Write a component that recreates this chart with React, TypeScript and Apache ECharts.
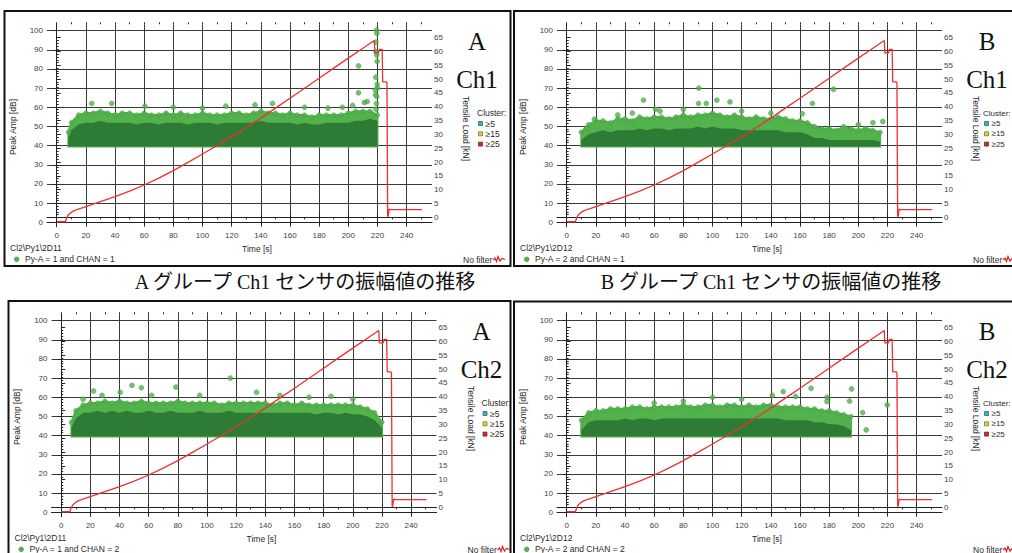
import React, { useEffect, useRef } from "react";
import * as echarts from "echarts";

// ---------------- tick values ----------------
const timeMajorTicks = [0, 20, 40, 60, 80, 100, 120, 140, 160, 180, 200, 220, 240];
const timeMinorTicks = [0, 10, 20, 30, 40, 50, 60, 70, 80, 90, 100, 110, 120, 130, 140, 150, 160, 170, 180, 190, 200, 210, 220, 230, 240, 250];
const ampTicks = [0, 10, 20, 30, 40, 50, 60, 70, 80, 90, 100];
const loadMajorTicks = [0, 5, 10, 15, 20, 25, 30, 35, 40, 45, 50, 55, 60, 65];
const loadMinorTicks = [0, 1, 2, 3, 4, 5, 6, 7, 8, 9, 10, 11, 12, 13, 14, 15, 16, 17, 18, 19, 20, 21, 22, 23, 24, 25, 26, 27, 28, 29, 30, 31, 32, 33, 34, 35, 36, 37, 38, 39, 40, 41, 42, 43, 44, 45, 46, 47, 48, 49, 50, 51, 52, 53, 54, 55, 56, 57, 58, 59, 60, 61, 62, 63, 64, 65];

// ---------------- tensile load curve (kN vs s) ----------------
const loadTime = [0, 6.0, 6.6, 7.2, 8, 9, 10, 12, 15, 20, 25, 30, 40, 50, 60, 70, 80, 90, 100, 110, 120, 130, 140, 150, 160, 170, 180, 190, 200, 210, 217.8, 218.2, 220.8, 221.3, 223.2, 223.6, 226.0, 226.5, 226.8, 227.0, 227.4, 228.0, 228.8, 250.5];
const loadKN = [-1.6, -1.6, -0.6, 0.2, 0.9, 1.4, 1.8, 2.4, 3.0, 3.9, 4.8, 5.7, 7.5, 9.5, 11.7, 14.2, 16.9, 19.9, 22.9, 26.0, 29.1, 32.4, 35.9, 39.5, 43.1, 46.7, 50.3, 54.0, 57.6, 61.2, 64.0, 59.5, 59.5, 60.8, 60.8, 49.0, 49.0, 48.7, 48.7, 0.3, 0.5, 3.0, 2.8, 2.8];

// ---------------- hit bands (dense cloud envelopes, dB) ----------------
const bandTimeA1 = [8, 10, 15, 20, 25, 30, 35, 40, 45, 50, 55, 60, 65, 70, 75, 80, 85, 90, 95, 100, 105, 110, 115, 120, 125, 130, 135, 140, 145, 150, 155, 160, 165, 170, 175, 180, 185, 190, 195, 200, 205, 210, 215, 220];
const coreA1 = [44, 48, 51, 52, 52, 53, 52, 52, 52, 52, 51, 52, 52, 51, 52, 52, 52, 51, 52, 52, 52, 51, 52, 52, 52, 52, 52, 53, 52, 52, 52, 52, 51, 52, 51, 51, 52, 52, 52, 52, 53, 53, 54, 53];
const fringeA1 = [47, 52, 56, 57, 57, 58, 57, 56, 57, 57, 56, 57, 56, 56, 57, 56, 57, 56, 56, 57, 56, 56, 56, 57, 57, 56, 57, 58, 57, 57, 56, 57, 56, 56, 55, 56, 56, 56, 56, 57, 58, 58, 58, 56];
const outliersA1 = [[24, 62], [37.7, 62], [60.5, 60.6], [80, 60], [100, 59.5], [116, 60.6], [136, 61.3], [148, 62], [170, 60], [186, 59.5], [196, 60], [203, 61], [207, 81.6], [207, 67.6], [211, 62.5], [213, 63], [219.4, 100.3], [219.6, 98.6], [219, 94], [219, 89], [219.5, 87.3], [219.8, 84], [218.8, 75.7], [219.8, 72], [220, 70], [218.5, 69], [218.6, 66.5], [219.6, 65.6], [219.3, 62], [219, 59]];

const bandTimeB1 = [10, 15, 20, 25, 30, 35, 40, 45, 50, 55, 60, 65, 70, 75, 80, 85, 90, 95, 100, 105, 110, 115, 120, 125, 130, 135, 140, 145, 150, 155, 160, 165, 170, 175, 180, 185, 190, 195, 200, 205, 210, 215];
const coreB1 = [43, 46, 47, 48, 47, 48, 48, 48, 49, 48, 49, 49, 48, 49, 49, 49, 50, 49, 50, 49, 49, 49, 48, 48, 48, 48, 48, 48, 47, 47, 47, 46, 44, 44, 43, 43, 43, 43, 43, 43, 43, 42];
const fringeB1 = [47, 51, 53, 53, 52, 54, 54, 53, 55, 54, 55, 55, 54, 55, 56, 55, 56, 56, 57, 56, 55, 56, 55, 54, 55, 54, 54, 55, 54, 53, 53, 52, 50, 49, 49, 48, 50, 49, 48, 49, 48, 47];
const outliersB1 = [[13.8, 49], [19, 53.8], [35, 56], [45, 57], [52.7, 63.7], [60.9, 59], [64, 58], [80, 58.9], [90.6, 70], [90.4, 62], [95.7, 62], [103, 63.7], [112, 62.8], [120, 58], [140, 57], [161.6, 56.6], [168.5, 62], [183, 69.4], [200, 51], [210, 52], [216.8, 52.6]];

const bandTimeA2 = [7, 10, 15, 20, 25, 30, 35, 40, 45, 50, 55, 60, 65, 70, 75, 80, 85, 90, 95, 100, 105, 110, 115, 120, 125, 130, 135, 140, 145, 150, 155, 160, 165, 170, 175, 180, 185, 190, 195, 200, 205, 210, 215, 220];
const coreA2 = [44, 49, 52, 52, 53, 52, 53, 52, 53, 52, 52, 53, 52, 52, 53, 52, 52, 52, 53, 52, 52, 52, 53, 52, 52, 52, 52, 52, 52, 52, 52, 52, 52, 52, 51, 52, 52, 51, 52, 51, 51, 50, 48, 44];
const fringeA2 = [47, 53, 56, 57, 57, 58, 57, 58, 57, 57, 58, 57, 57, 57, 57, 58, 57, 57, 57, 57, 57, 56, 57, 57, 57, 57, 57, 57, 56, 57, 57, 56, 57, 56, 56, 56, 56, 56, 56, 56, 55, 54, 52, 47];
const outliersA2 = [[15, 59], [22.2, 63.3], [28, 61], [40.5, 62.6], [48.5, 66.2], [55, 65], [62, 61], [78.7, 65.3], [95, 61], [116, 70], [134, 62.6], [150, 61], [170, 60], [185, 60.5], [200, 59]];

const bandTimeB2 = [10, 15, 20, 25, 30, 35, 40, 45, 50, 55, 60, 65, 70, 75, 80, 85, 90, 95, 100, 105, 110, 115, 120, 125, 130, 135, 140, 145, 150, 155, 160, 165, 170, 175, 180, 185, 190, 195];
const coreB2 = [43, 47, 48, 48, 48, 48, 49, 48, 49, 49, 48, 49, 49, 49, 49, 49, 49, 49, 49, 49, 49, 49, 49, 49, 49, 49, 49, 49, 48, 48, 48, 48, 47, 47, 46, 46, 45, 43];
const fringeB2 = [48, 52, 53, 53, 54, 54, 54, 55, 55, 54, 55, 55, 55, 55, 56, 55, 55, 56, 56, 55, 56, 56, 55, 56, 55, 56, 56, 55, 55, 55, 55, 54, 54, 53, 53, 52, 51, 50];
const outliersB2 = [[60, 57], [80, 58], [100, 60], [120, 59], [141, 61], [148.5, 63], [157, 60.4], [167.6, 64.7], [178.5, 60], [178.5, 57.8], [194, 58], [195.4, 64.4], [203, 52], [205.4, 43], [219.8, 56]];

// ---------------- layout ----------------
const FRAME_L = 47;
const FRAME_T = 24.3;
const FRAME_W = 385;
const FRAME_H = 202.4;
const X_MIN = -6.65;
const X_MAX = 257.4;
const AMP_MIN = -2.3;
const AMP_MAX = 103.3;
const LOAD_MIN = -3.4;
const LOAD_MAX = 69.85;

const LIGHT = "#52b24c";
const LIGHT_EDGE = "#3d9638";
const DARK = "#2e7b36";
const RED = "#ee3030";
const AXIS = "#222";
const GRIDC = "#3a3a3a";
const LABEL = "#3b3f4a";
const SANS = "'Liberation Sans', Arial, sans-serif";
const SERIF = "'Liberation Serif', 'Times New Roman', 'Noto Sans CJK JP', serif";

const panels = [
  { group: "A", ch: "Ch1", path: "Cl2\\Py1\\2D11", legend: "Py-A = 1 and CHAN = 1", dx: 0, dy: 0, legX: 477, legFont: 8.5, box: [4.5, 11, 506, 255], bandT: bandTimeA1, core: coreA1, fringe: fringeA1, out: outliersA1 },
  { group: "B", ch: "Ch1", path: "Cl2\\Py1\\2D12", legend: "Py-A = 2 and CHAN = 1", dx: 510, dy: 0, legX: 473, legFont: 8, box: [514, 11, 510, 255], bandT: bandTimeB1, core: coreB1, fringe: fringeB1, out: outliersB1 },
  { group: "A", ch: "Ch2", path: "Cl2\\Py1\\2D11", legend: "Py-A = 1 and CHAN = 2", dx: 4.5, dy: 290, legX: 477, legFont: 8.5, box: [8.5, 301, 502, 262], bandT: bandTimeA2, core: coreA2, fringe: fringeA2, out: outliersA2 },
  { group: "B", ch: "Ch2", path: "Cl2\\Py1\\2D12", legend: "Py-A = 2 and CHAN = 2", dx: 510, dy: 290, legX: 473, legFont: 8, box: [514, 301.5, 510, 262], bandT: bandTimeB2, core: coreB2, fringe: fringeB2, out: outliersB2 },
];

function zip(ts: number[], vs: number[]): number[][] {
  return ts.map((t, i) => [t, vs[i]]);
}

function bandPolygon(ts: number[], vs: number[]): number[][] {
  return [[ts[0], 39.6], ...zip(ts, vs), [ts[ts.length - 1], 39.6]];
}

function buildOption() {
  const grid: any[] = [];
  const xAxis: any[] = [];
  const yAxis: any[] = [];
  const series: any[] = [];
  const graphic: any[] = [];

  panels.forEach((p, i) => {
    grid.push({ left: FRAME_L + p.dx, top: FRAME_T + p.dy, width: FRAME_W, height: FRAME_H, containLabel: false });
    const xb = xAxis.length;
    const common = { gridIndex: i, type: "value", min: X_MIN, max: X_MAX };
    xAxis.push({
      ...common, position: "bottom",
      axisLine: { show: true, lineStyle: { color: AXIS, width: 1 } },
      axisTick: { show: true, length: 3, customValues: timeMajorTicks, lineStyle: { color: AXIS } },
      axisLabel: { show: true, customValues: timeMajorTicks, fontSize: 8, color: LABEL, fontFamily: SANS, margin: 5 },
      splitLine: { show: true, lineStyle: { color: GRIDC, width: 1 } },
    });
    xAxis.push({
      ...common, position: "bottom",
      axisLine: { show: false },
      axisTick: { show: true, length: 2, customValues: timeMinorTicks, lineStyle: { color: AXIS } },
      axisLabel: { show: false },
      splitLine: { show: false },
    });
    xAxis.push({
      ...common, position: "top",
      axisLine: { show: true, lineStyle: { color: AXIS, width: 1 } },
      axisTick: { show: true, length: 3.5, customValues: timeMajorTicks, lineStyle: { color: AXIS } },
      axisLabel: { show: false },
      splitLine: { show: false },
    });
    xAxis.push({
      ...common, position: "top",
      axisLine: { show: false },
      axisTick: { show: true, length: 2, customValues: timeMinorTicks, lineStyle: { color: AXIS } },
      axisLabel: { show: false },
      splitLine: { show: false },
    });
    const yb = yAxis.length;
    yAxis.push({
      gridIndex: i, type: "value", min: AMP_MIN, max: AMP_MAX, position: "left",
      axisLine: { show: true, lineStyle: { color: AXIS, width: 1 } },
      axisTick: { show: true, length: 3.5, customValues: ampTicks, lineStyle: { color: AXIS } },
      axisLabel: { show: true, customValues: ampTicks, fontSize: 8, color: LABEL, fontFamily: SANS, margin: 4 },
      splitLine: { show: true, lineStyle: { color: GRIDC, width: 1 } },
    });
    yAxis.push({
      gridIndex: i, type: "value", min: LOAD_MIN, max: LOAD_MAX, position: "right",
      axisLine: { show: true, lineStyle: { color: AXIS, width: 1 } },
      axisTick: { show: true, length: 4, customValues: loadMajorTicks, lineStyle: { color: AXIS } },
      axisLabel: { show: true, customValues: loadMajorTicks, fontSize: 8, color: LABEL, fontFamily: SANS, margin: 2 },
      splitLine: { show: false },
    });
    yAxis.push({
      gridIndex: i, type: "value", min: LOAD_MIN, max: LOAD_MAX, position: "right",
      axisLine: { show: false },
      axisTick: { show: true, length: 2, customValues: loadMinorTicks, lineStyle: { color: AXIS } },
      axisLabel: { show: false },
      splitLine: { show: false },
    });

    const fringePoly = bandPolygon(p.bandT, p.fringe);
    const corePoly = bandPolygon(p.bandT, p.core);
    series.push({
      type: "custom", coordinateSystem: "cartesian2d", xAxisIndex: xb, yAxisIndex: yb, silent: true, z: 2,
      data: [[p.bandT[0], 40]],
      renderItem: (_params: any, api: any) => ({
        type: "polygon",
        shape: { points: fringePoly.map((pt) => api.coord(pt)) },
        style: { fill: LIGHT, stroke: LIGHT, lineWidth: 2 },
      }),
    });
    series.push({
      type: "custom", coordinateSystem: "cartesian2d", xAxisIndex: xb, yAxisIndex: yb, silent: true, z: 3,
      data: [[p.bandT[0], 40]],
      renderItem: (_params: any, api: any) => ({
        type: "polygon",
        shape: { points: corePoly.map((pt) => api.coord(pt)) },
        style: { fill: DARK },
      }),
    });
    series.push({
      type: "scatter", xAxisIndex: xb, yAxisIndex: yb, z: 4, silent: true,
      symbol: "circle", symbolSize: 4.5,
      itemStyle: { color: LIGHT, borderColor: LIGHT_EDGE, borderWidth: 0.5 },
      data: zip(p.bandT, p.fringe),
    });
    series.push({
      type: "scatter", xAxisIndex: xb, yAxisIndex: yb, z: 4, silent: true,
      symbol: "circle", symbolSize: 5,
      itemStyle: { color: LIGHT, borderColor: LIGHT_EDGE, borderWidth: 0.5 },
      data: p.out,
    });
    series.push({
      type: "line", xAxisIndex: xb, yAxisIndex: yb + 1, z: 6, silent: true,
      showSymbol: false, symbol: "none",
      lineStyle: { color: RED, width: 1.3 },
      data: zip(loadTime, loadKN),
    });

    const dx = p.dx, dy = p.dy;
    const small = { fontSize: 8.5, fontFamily: SANS, fill: "#2a2a2a" };
    const legSmall = { fontSize: p.legFont, fontFamily: SANS, fill: "#2a2a2a" };
    graphic.push({ type: "rect", shape: { x: p.box[0], y: p.box[1], width: p.box[2], height: p.box[3] }, style: { fill: "none", stroke: "#111", lineWidth: 2 }, silent: true });
    graphic.push({ type: "text", x: 477 + dx, y: 41 + dy, style: { text: p.group, fontSize: 25, fontFamily: SERIF, fill: "#111", align: "center", verticalAlign: "middle", textAlign: "center", textVerticalAlign: "middle" } });
    graphic.push({ type: "text", x: 477 + dx, y: 79.5 + dy, style: { text: p.ch, fontSize: 25, fontFamily: SERIF, fill: "#111", align: "center", verticalAlign: "middle", textAlign: "center", textVerticalAlign: "middle" } });
    graphic.push({ type: "text", x: 12.7 + dx, y: 127 + dy, rotation: Math.PI / 2, style: { ...small, text: "Peak Amp [dB]", align: "center", verticalAlign: "middle", textAlign: "center", textVerticalAlign: "middle" } });
    graphic.push({ type: "text", x: 466 + dx, y: 128.5 + dy, rotation: -Math.PI / 2, style: { ...small, text: "Tensile Load [kN]", align: "center", verticalAlign: "middle", textAlign: "center", textVerticalAlign: "middle" } });
    graphic.push({ type: "text", x: p.legX + dx, y: 113.3 + dy, style: { ...legSmall, text: "Cluster:", align: "left", verticalAlign: "middle", textAlign: "left", textVerticalAlign: "middle" } });
    const clusters = [["≥5", "#3fb0c4", "#1e5f6b"], ["≥15", "#d9d43a", "#6d6a1e"], ["≥25", "#c8302c", "#6a1a18"]];
    clusters.forEach((c, k) => {
      const cy = 123.5 + k * 10.3 + dy;
      graphic.push({ type: "rect", shape: { x: p.legX + 1.5 + dx, y: cy - 2, width: 4, height: 4 }, style: { fill: c[1], stroke: c[2], lineWidth: 0.7 } });
      graphic.push({ type: "text", x: p.legX + 8.5 + dx, y: cy, style: { ...legSmall, text: c[0], align: "left", verticalAlign: "middle", textAlign: "left", textVerticalAlign: "middle" } });
    });
    graphic.push({ type: "text", x: 10 + dx, y: 248.3 + dy, style: { ...small, text: p.path, align: "left", verticalAlign: "middle", textAlign: "left", textVerticalAlign: "middle" } });
    graphic.push({ type: "text", x: 257 + dx, y: 248.5 + dy, style: { ...small, text: "Time [s]", align: "center", verticalAlign: "middle", textAlign: "center", textVerticalAlign: "middle" } });
    graphic.push({ type: "circle", shape: { cx: 16.7 + dx, cy: 259.3 + dy, r: 2.4 }, style: { fill: LIGHT, stroke: LIGHT_EDGE, lineWidth: 0.5 } });
    graphic.push({ type: "text", x: 25 + dx, y: 259.3 + dy, style: { ...small, text: p.legend, align: "left", verticalAlign: "middle", textAlign: "left", textVerticalAlign: "middle" } });
    graphic.push({ type: "text", x: 463 + dx, y: 259.5 + dy, style: { ...small, text: "No filter", align: "left", verticalAlign: "middle", textAlign: "left", textVerticalAlign: "middle" } });
    graphic.push({
      type: "polyline",
      shape: { points: [[493 + dx, 260 + dy], [495 + dx, 258 + dy], [496.5 + dx, 261.5 + dy], [498 + dx, 256.5 + dy], [500 + dx, 261 + dy], [502 + dx, 258.5 + dy], [505 + dx, 259.5 + dy]] },
      style: { stroke: "#e02020", lineWidth: 1.2, fill: "none" },
    });
  });

  graphic.push({ type: "text", x: 305, y: 282, style: { text: "A グループ Ch1 センサの振幅値の推移", fontSize: 20, fontFamily: SERIF, fill: "#111", align: "center", verticalAlign: "middle", textAlign: "center", textVerticalAlign: "middle" } });
  graphic.push({ type: "text", x: 771, y: 282, style: { text: "B グループ Ch1 センサの振幅値の推移", fontSize: 20, fontFamily: SERIF, fill: "#111", align: "center", verticalAlign: "middle", textAlign: "center", textVerticalAlign: "middle" } });

  return {
    animation: false,
    backgroundColor: "#ffffff",
    grid, xAxis, yAxis, series, graphic,
  };
}

export default function App() {
  const ref = useRef<HTMLDivElement>(null);
  useEffect(() => {
    if (!ref.current) return;
    const chart = echarts.init(ref.current, undefined, { renderer: "svg" });
    chart.setOption(buildOption() as any);
    return () => chart.dispose();
  }, []);
  return <div ref={ref} style={{ position: "fixed", left: 0, top: 0, width: 1012, height: 553, background: "#fff" }} />;
}
